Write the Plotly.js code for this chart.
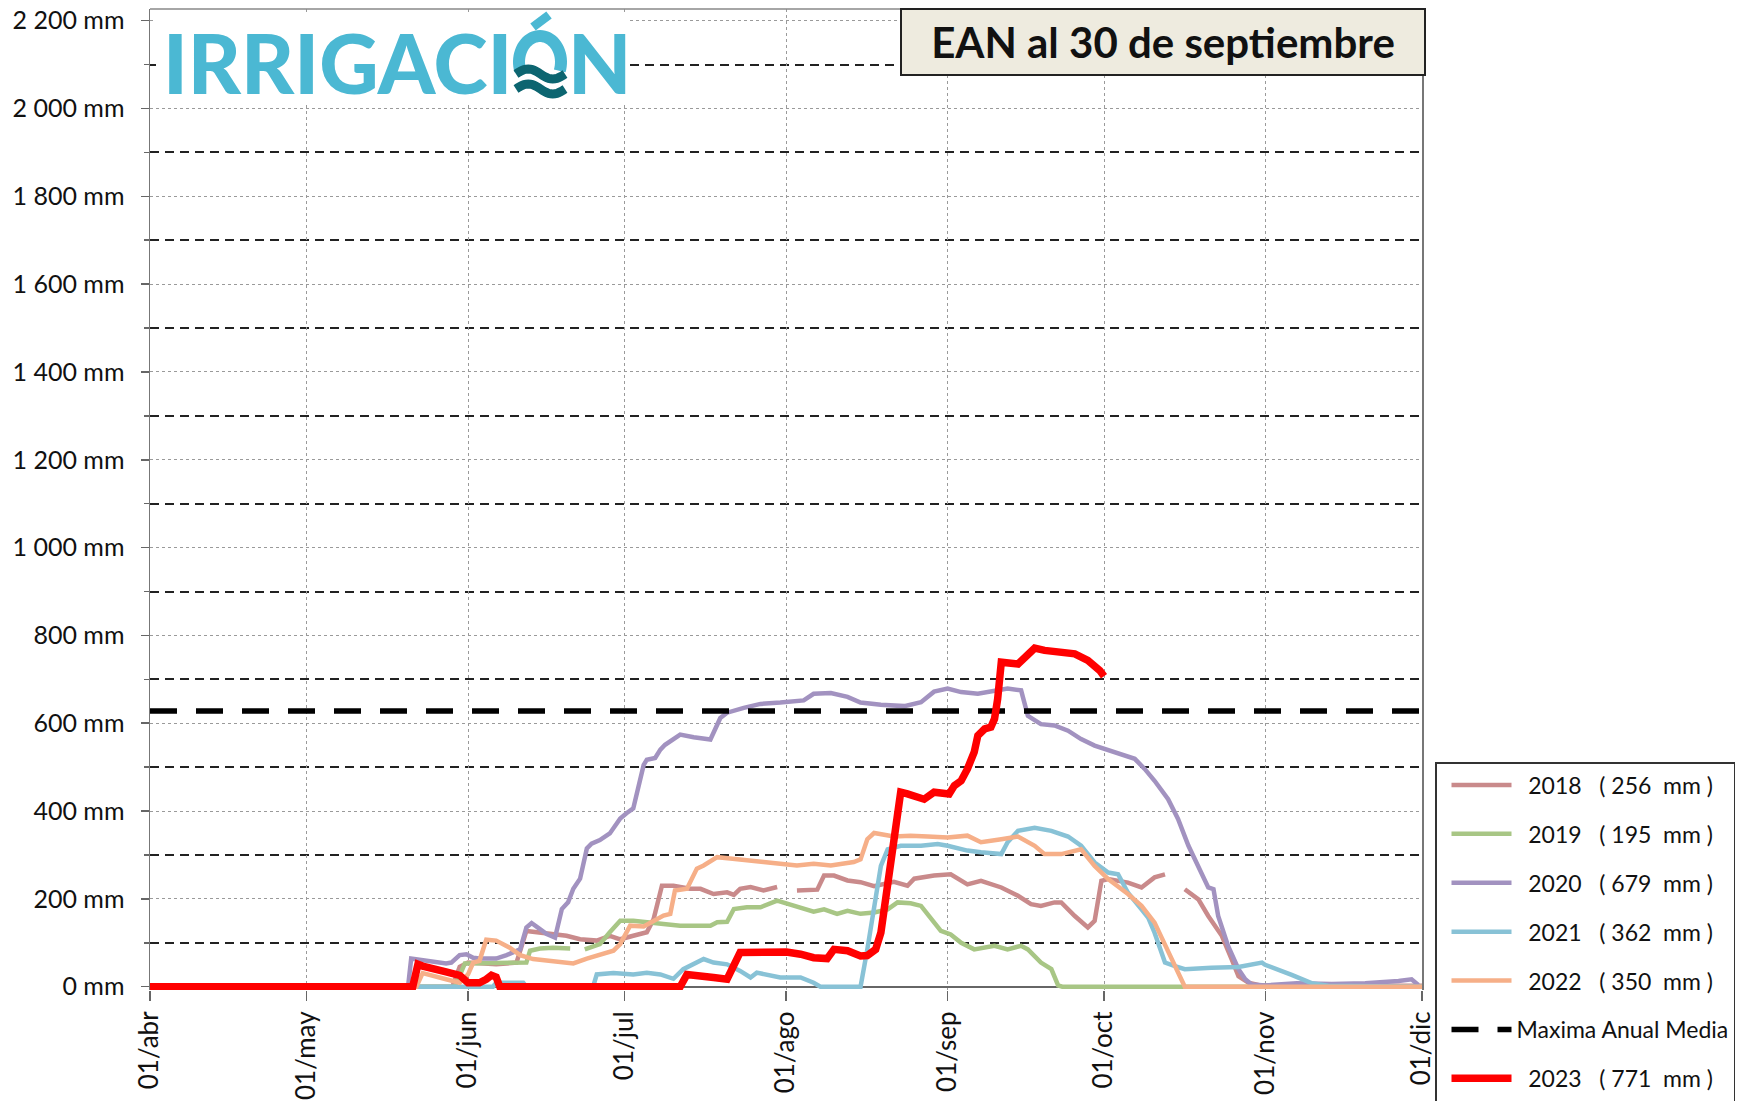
<!DOCTYPE html>
<html>
<head>
<meta charset="utf-8">
<script src="https://cdn.plot.ly/plotly-3.0.1.min.js"></script>
<style>html,body{margin:0;padding:0;background:#fff;}#chart{width:1744px;height:1101px;}</style>
</head>
<body>
<div id="chart"></div>
<script>
// ---------- DATA ----------
const monthTickVals = [0, 30, 61, 91, 122, 153, 183, 214, 244]; // days since 01/abr
const monthTickText = ['01/abr', '01/may', '01/jun', '01/jul', '01/ago', '01/sep', '01/oct', '01/nov', '01/dic'];
const yTickVals = [0, 200, 400, 600, 800, 1000, 1200, 1400, 1600, 1800, 2000, 2200];
const yTickText = ['0 mm', '200 mm', '400 mm', '600 mm', '800 mm', '1 000 mm', '1 200 mm', '1 400 mm', '1 600 mm', '1 800 mm', '2 000 mm', '2 200 mm'];

const seriesNames = ['2018', '2019', '2020', '2021', '2022', '2023'];
const seriesTotals = [256, 195, 679, 362, 350, 771];
const maximaName = 'Maxima Anual Media';
const maximaDays = [0, 244];
const maximaValues = [628, 628];

// [day since 01/abr, mm]
const data2018 = [[0,0],[58,0],[59.4,45],[61,55],[66.4,51],[70.3,55],[72.2,127],[74.8,124],[77.3,120],[79.9,116],[82.5,108],[85.7,105],[88.2,116],[90.2,108],[92.7,116],[95.3,124],[96.6,154],[98.2,230],[100.4,230],[103.6,223],[105.6,223],[108.1,211],[110.7,215],[112,209],[113.2,223],[115.2,227],[117.7,219],[120.3,227],[122,null],[124.1,219],[128,221],[129.3,253],[131.2,253],[133.8,242],[136.3,238],[138.9,229],[142.7,239],[145.3,230],[146.6,246],[150.4,253],[153.6,256],[156.8,233],[159.4,241],[163.3,226],[166.5,207],[169,188],[170.9,184],[173.5,192],[174.8,192],[177.4,161],[179.9,135],[181.2,150],[182.5,241],[183.8,245],[187.6,237],[190.2,226],[192.7,249],[194.7,256],[196.5,null],[198.5,222],[201.1,199],[203,161],[205.6,116],[207.5,62],[208.8,24],[210.7,9],[213,3],[220,2],[244,2]];
const data2019 = [[0,0],[58.5,0],[60.4,53],[63.2,53],[72.2,55],[72.9,82],[74.8,87],[77.3,89],[80.6,87],[82,null],[83.4,85],[86.3,97],[88.2,124],[90.2,150],[92.7,150],[95.3,148],[98.5,143],[101.7,139],[107.5,139],[108.8,147],[110.7,148],[112,177],[114.5,181],[117.1,181],[120.3,196],[122.2,189],[125.4,177],[127.3,171],[129.3,176],[131.8,166],[133.8,173],[136.3,166],[138.9,169],[141.5,176],[143.4,192],[145.9,190],[147.9,184],[149.8,157],[151.7,127],[153.6,119],[155.6,100],[158.1,85],[162,93],[164.5,85],[167.1,93],[168.4,85],[170.9,55],[172.9,40],[174.2,3],[175,0],[244,0]];
const data2020 = [[0,0],[49.5,0],[50.1,64],[53,59],[56.8,53],[57.8,55],[59.4,72],[60.7,74],[62,66],[63.2,64],[66.4,64],[68.4,72],[71,85],[72.2,135],[73.2,145],[74.8,131],[76.1,120],[77.7,112],[79,177],[80.2,192],[81.2,223],[82.5,246],[83.8,315],[84.7,326],[86.3,334],[88.2,349],[88.9,360],[90.2,383],[91.4,395],[92.7,406],[94.7,505],[95.3,517],[96.9,521],[97.9,540],[98.8,551],[100.4,563],[101.7,574],[104.3,568],[107.5,563],[109.4,612],[110.7,624],[113.9,635],[117.1,644],[120.9,647],[125.4,652],[127.3,667],[130.6,669],[133.8,660],[136.3,647],[140.2,642],[144.7,639],[147.9,648],[150.4,672],[153,679],[155.6,671],[158.8,667],[162,675],[164.5,679],[167.1,675],[168.4,617],[170.9,598],[173.5,595],[176.1,583],[178.6,564],[181.2,549],[183.1,541],[187,526],[188.9,519],[190.8,496],[192.7,469],[195.3,427],[197.2,382],[199.2,321],[201.1,275],[203,226],[204,222],[204.9,161],[206.8,93],[208.8,40],[210.1,17],[211.3,5],[214,3],[220,8],[226.7,6],[233.1,8],[239.5,13],[242,17],[243.3,4]];
const data2021 = [[0,0],[65.8,0],[66.4,9],[71.6,9],[72.2,0],[85,0],[85.7,28],[88.9,31],[92.7,28],[95.3,32],[97.9,28],[100.4,18],[102.3,40],[104.3,51],[106.2,63],[108.1,55],[110.7,51],[113.2,36],[115.2,21],[116.4,32],[118.4,28],[120.9,21],[124.8,21],[127.3,9],[128.6,0],[136.3,0],[137.6,85],[138.9,177],[140.2,275],[141.5,313],[144,321],[147.9,321],[151.1,325],[153,321],[156.8,310],[159.4,306],[163.3,302],[164.5,329],[166.5,355],[169.7,362],[172.9,355],[176.1,342],[178.6,321],[181.2,283],[183.8,260],[185.7,256],[187.6,214],[190.2,176],[191.5,157],[192.7,123],[194.7,55],[196.6,47],[198.5,40],[203.6,43],[208.8,45],[213.3,55],[213.9,50],[219,27],[222.8,8],[226,2],[244,0]];
const data2022 = [[0,0],[51.1,0],[52.3,31],[54.3,24],[56.8,17],[59.4,9],[61,28],[62,55],[63.2,59],[64.5,107],[66.4,105],[69,89],[71,72],[73.5,63],[76.1,59],[78.6,55],[81.2,53],[83.8,64],[86.3,74],[88.9,82],[90.2,97],[92.1,139],[94.7,137],[96.6,150],[98.5,162],[99.8,166],[100.7,219],[103,223],[104.9,269],[106.2,276],[108.8,295],[111.3,292],[114.5,289],[117.7,284],[120.9,280],[124.1,276],[127.3,280],[130.6,276],[135,284],[136.3,290],[137.6,336],[138.9,350],[142.7,342],[145.9,344],[149.2,342],[153,340],[156.8,344],[159.4,329],[163.3,336],[166.5,342],[169.7,321],[171.6,302],[174.8,302],[178.6,313],[181.2,275],[183.8,245],[187.6,211],[190.2,184],[192.7,146],[195.3,78],[197.2,32],[198.5,0],[244,0]];
const data2023 = [[0,0],[50.4,0],[51.4,51],[52.3,47],[56.8,34],[59.4,26],[61,9],[63.2,9],[64.5,17],[65.5,26],[66.4,22],[67.1,0],[101.7,0],[103,28],[108.1,21],[110.7,17],[113.2,78],[122.1,79],[124.8,74],[127.3,66],[129.9,64],[131.2,85],[133.8,82],[136.3,70],[137.6,71],[139.2,85],[140.2,123],[141.5,230],[142.7,351],[144,443],[145.3,439],[148.5,427],[150.4,443],[153.3,439],[154.3,458],[155.6,469],[156.8,496],[158.1,534],[158.8,572],[160.1,587],[161.3,591],[162,610],[162.6,655],[163.3,739],[166.5,735],[167.7,750],[169.7,771],[171.6,766],[174.8,762],[177.4,758],[179.9,743],[181.2,731],[182.2,720],[183,707]];

// ---------- LAYOUT GEOMETRY ----------
const W = 1744, H = 1101;
const PL = 150, PR = 1422, PT = 9, PB = 990;
const gw = PR - PL, gh = PB - PT;
const px2x = px => (px - PL) / gw;
const py2y = py => (PB - py) / gh;

const NB = '\u00a0';
function legendLabel(name, total) {
  return NB + NB + name + NB + NB + NB + '(' + NB + total + NB + NB + 'mm' + NB + ')';
}
function xs(p) { return p.map(d => d[0]); }
function ys(p) { return p.map(d => d[1]); }

const seriesData = [data2018, data2019, data2020, data2021, data2022];
const seriesStyle = [
  {color: '#C98A8B', width: 4.5},
  {color: '#A8C685', width: 4.5},
  {color: '#A292C0', width: 4.5},
  {color: '#88C2D6', width: 4.5},
  {color: '#F6AF88', width: 4.5}
];

const traces = seriesData.map((d, i) => ({
  type: 'scatter', mode: 'lines',
  x: xs(d), y: ys(d),
  name: legendLabel(seriesNames[i], seriesTotals[i]),
  legendgroup: 'g' + i,
  connectgaps: false,
  line: {color: seriesStyle[i].color, width: seriesStyle[i].width},
  hoverinfo: 'skip'
}));
traces.push({
  type: 'scatter', mode: 'lines',
  x: maximaDays, y: maximaValues,
  name: maximaName, legendgroup: 'gm',
  line: {color: '#000', width: 5.5, dash: '27px,19px'},
  hoverinfo: 'skip'
});
traces.push({
  type: 'scatter', mode: 'lines',
  x: xs(data2023), y: ys(data2023),
  name: legendLabel(seriesNames[5], seriesTotals[5]),
  legendgroup: 'g5',
  line: {color: '#FF0000', width: 7.5},
  hoverinfo: 'skip'
});

// ---------- LOGO (decorative) ----------
function pathFromPts(pts) {
  return pts.map((p, i) => (i ? 'L' : 'M') + px2x(p[0]).toFixed(5) + ',' + py2y(p[1]).toFixed(5)).join(' ');
}
function arcPts(cx, cy, rx, ry, a0, a1, n) {
  const pts = [];
  for (let k = 0; k <= n; k++) {
    const a = (a0 + (a1 - a0) * k / n) * Math.PI / 180;
    pts.push([cx + rx * Math.cos(a), cy - ry * Math.sin(a)]);
  }
  return pts;
}
function wavePts(x0, x1, yc, amp, n) {
  const pts = [];
  for (let k = 0; k <= n; k++) {
    const t = k / n;
    pts.push([x0 + (x1 - x0) * t, yc + amp * Math.sin(2 * Math.PI * t)]);
  }
  return pts;
}
const logoBlue = '#4BB8D3', logoTeal = '#0C6570';
const oCx = 540, oCy = 62;

const shapes = [
  {type: 'line', xref: 'paper', yref: 'paper', x0: 0, x1: 1, y0: 1, y1: 1, line: {color: '#888', width: 1.5}, layer: 'above'},
  {type: 'rect', xref: 'paper', yref: 'paper', x0: px2x(156), x1: px2x(630), y0: py2y(102), y1: py2y(13), fillcolor: '#fff', line: {width: 0}, layer: 'above'},
  {type: 'path', xref: 'paper', yref: 'paper', path: pathFromPts(arcPts(oCx, oCy, 21, 26, 200, -20, 40)), line: {color: logoBlue, width: 12}, layer: 'above'},
  {type: 'path', xref: 'paper', yref: 'paper', path: pathFromPts([[533, 27], [549, 15]]), line: {color: logoBlue, width: 9}, layer: 'above'},
  {type: 'path', xref: 'paper', yref: 'paper', path: pathFromPts(wavePts(516, 565, 74, -5, 24)), line: {color: logoTeal, width: 9}, layer: 'above'},
  {type: 'path', xref: 'paper', yref: 'paper', path: pathFromPts(wavePts(516, 565, 89, -5, 24)), line: {color: logoTeal, width: 9}, layer: 'above'}
];

const annotations = [
  {xref: 'paper', yref: 'paper', x: px2x(514), y: py2y(62), xanchor: 'right', yanchor: 'middle', showarrow: false,
   text: 'IRRIGACI', font: {family: 'Lato', size: 82, weight: 900, color: logoBlue}},
  {xref: 'paper', yref: 'paper', x: px2x(566), y: py2y(62), xanchor: 'left', yanchor: 'middle', showarrow: false,
   text: 'N', font: {family: 'Lato', size: 82, weight: 900, color: logoBlue}},
  {xref: 'paper', yref: 'paper', x: px2x(1162.5), y: py2y(42), xanchor: 'center', yanchor: 'middle', showarrow: false,
   text: 'EAN al 30 de septiembre', font: {family: 'Lato', size: 42, weight: 700, color: '#111'},
   bgcolor: '#EEEBDF', bordercolor: '#222', borderwidth: 2, borderpad: 1, width: 520, height: 62}
];

const layout = {
  width: W, height: H,
  margin: {l: PL, r: W - PR, t: PT, b: H - PB, autoexpand: false},
  paper_bgcolor: '#fff', plot_bgcolor: '#fff',
  font: {family: 'Lato, sans-serif', color: '#111'},
  showlegend: true,
  hovermode: false,
  xaxis: {
    range: [0, 244], tickmode: 'array', tickvals: monthTickVals, ticktext: monthTickText,
    tickangle: -90, ticks: 'outside', ticklen: 10, tickwidth: 1.5, tickcolor: '#666',
    showgrid: true, gridcolor: '#9a9a9a', griddash: '3px,3px', gridwidth: 1,
    showline: false, zeroline: false, layer: 'below traces', fixedrange: true,
    tickfont: {family: 'Lato', size: 26, color: '#111'}
  },
  yaxis: {
    range: [-7.5, 2226.6], tickmode: 'array', tickvals: yTickVals, ticktext: yTickText,
    ticks: 'outside', ticklen: 8, tickwidth: 1.5, tickcolor: '#666',
    showgrid: true, gridcolor: '#9a9a9a', griddash: '3px,3px', gridwidth: 1,
    zeroline: true, zerolinecolor: '#666', zerolinewidth: 2,
    showline: true, linecolor: '#777', linewidth: 1.5, mirror: true,
    layer: 'below traces', fixedrange: true, ticklabelstandoff: 11,
    tickfont: {family: 'Lato', size: 25, color: '#111'},
    minor: {tickmode: 'linear', tick0: 100, dtick: 200, ticks: 'outside', ticklen: 5, tickcolor: '#666',
            showgrid: true, gridcolor: '#222', griddash: '9px,6px', gridwidth: 2}
  },
  legend: {
    x: px2x(1435), y: py2y(762), xanchor: 'left', yanchor: 'top',
    bgcolor: '#fff', bordercolor: '#333', borderwidth: 1.5,
    font: {family: 'Lato', size: 23, color: '#111'},
    tracegroupgap: 16, itemwidth: 60, traceorder: 'grouped', indentation: 10
  },
  shapes: shapes,
  annotations: annotations
};

Plotly.newPlot('chart', traces, layout, {displayModeBar: false, staticPlot: true});
</script>
</body>
</html>
